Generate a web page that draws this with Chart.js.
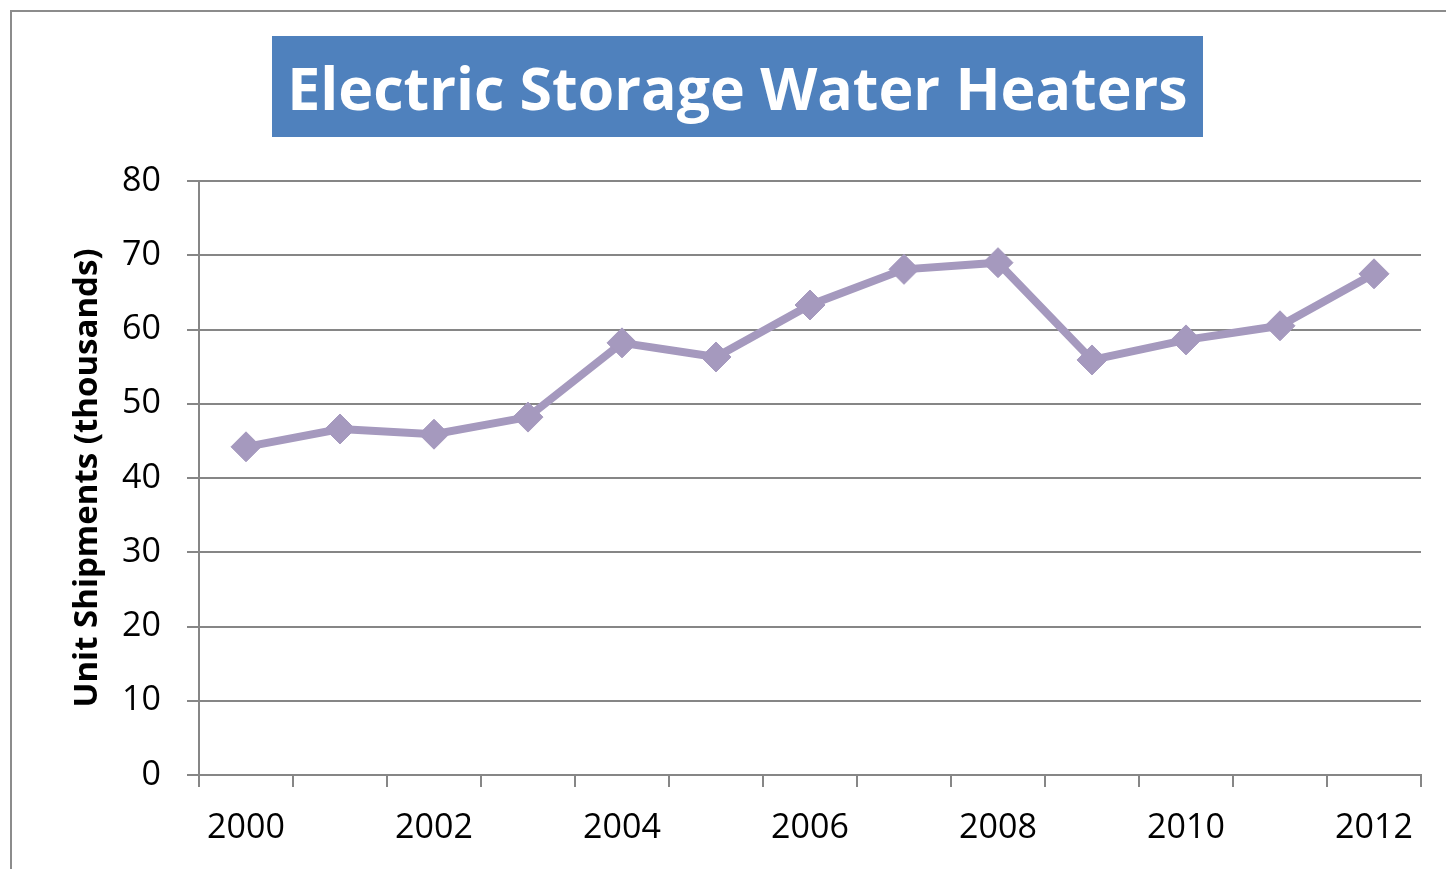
<!DOCTYPE html>
<html>
<head>
<meta charset="utf-8">
<script src="https://cdn.jsdelivr.net/npm/chart.js@4"></script>
<style>
	html, body { margin: 0; padding: 0; background: #fff; overflow: hidden; }
	#wrap { position: relative; width: 1446px; height: 869px; }
	#frame {
		position: absolute; left: 10px; top: 10px; width: 2000px; height: 2000px;
		border: 2px solid #8c8c8c; box-sizing: border-box;
	}
	#title {
		position: absolute; left: 272px; top: 36px; width: 931px; height: 101px;
		background: #4f81bd; color: #fff;
		font-family: 'Open Sans', sans-serif; font-weight: bold; font-size: 59px;
		display: flex; align-items: center; justify-content: center; white-space: nowrap;
	}
	#myChart { position: absolute; left: 0; top: 0; }
</style>
</head>
<body>
<div id="wrap">
	<div id="frame"></div>
	<canvas id="myChart" width="1446" height="869"></canvas>
	<div id="title">Electric Storage Water Heaters</div>
</div>
<script>
const years = ['2000', '2001', '2002', '2003', '2004', '2005', '2006',
	'2007', '2008', '2009', '2010', '2011', '2012'];
const shipments = [44.2, 46.6, 45.9, 48.2, 58.2, 56.3, 63.3, 68.1, 69.0, 55.9, 58.6, 60.5, 67.5];
const yTicks = [0, 10, 20, 30, 40, 50, 60, 70, 80];

const lineColor = '#a599be';
const gridColor = '#868686';

Chart.defaults.font.family = "'Open Sans', sans-serif";
Chart.defaults.color = '#000';

window.onload = () => {
	const ctx = document.getElementById('myChart').getContext('2d');
	new Chart(ctx, {
		type: 'line',
		data: {
			labels: years,
			datasets: [{
				label: 'Unit Shipments',
				data: shipments,
				borderColor: lineColor,
				backgroundColor: lineColor,
				borderWidth: 8,
				tension: 0,
				fill: false,
				pointStyle: 'rectRot',
				pointRadius: 15,
				pointHoverRadius: 15,
				pointBorderWidth: 1,
				pointBorderColor: lineColor,
				pointBackgroundColor: lineColor
			}]
		},
		options: {
			responsive: false,
			animation: false,
			layout: { padding: { left: 0, right: 25, top: 181, bottom: 0 } },
			plugins: {
				legend: { display: false },
				tooltip: { enabled: false }
			},
			scales: {
				x: {
					offset: true,
					grid: {
						offset: true,
						drawOnChartArea: false,
						drawTicks: true,
						tickLength: 12,
						color: gridColor,
						lineWidth: 2
					},
					border: { display: true, color: gridColor, width: 2 },
					ticks: {
						autoSkip: false,
						maxRotation: 0,
						padding: 21,
						font: { size: 34 },
						callback: function (val, i) { return i % 2 === 0 ? years[i] : ''; }
					},
					afterFit: (s) => { s.height = 94; }
				},
				y: {
					min: 0,
					max: 80,
					afterBuildTicks: (s) => { s.ticks = yTicks.map(v => ({ value: v })); },
					grid: {
						color: gridColor,
						lineWidth: 2,
						drawTicks: true,
						tickLength: 12
					},
					border: { display: true, color: gridColor, width: 2 },
					ticks: {
						padding: 26,
						font: { size: 34 }
					},
					title: {
						display: true,
						text: 'Unit Shipments (thousands)',
						font: { size: 33, weight: 'bold' },
						padding: { top: 68, bottom: 0 }
					},
					afterFit: (s) => { s.width = 199; }
				}
			}
		}
	});
};
</script>
</body>
</html>
